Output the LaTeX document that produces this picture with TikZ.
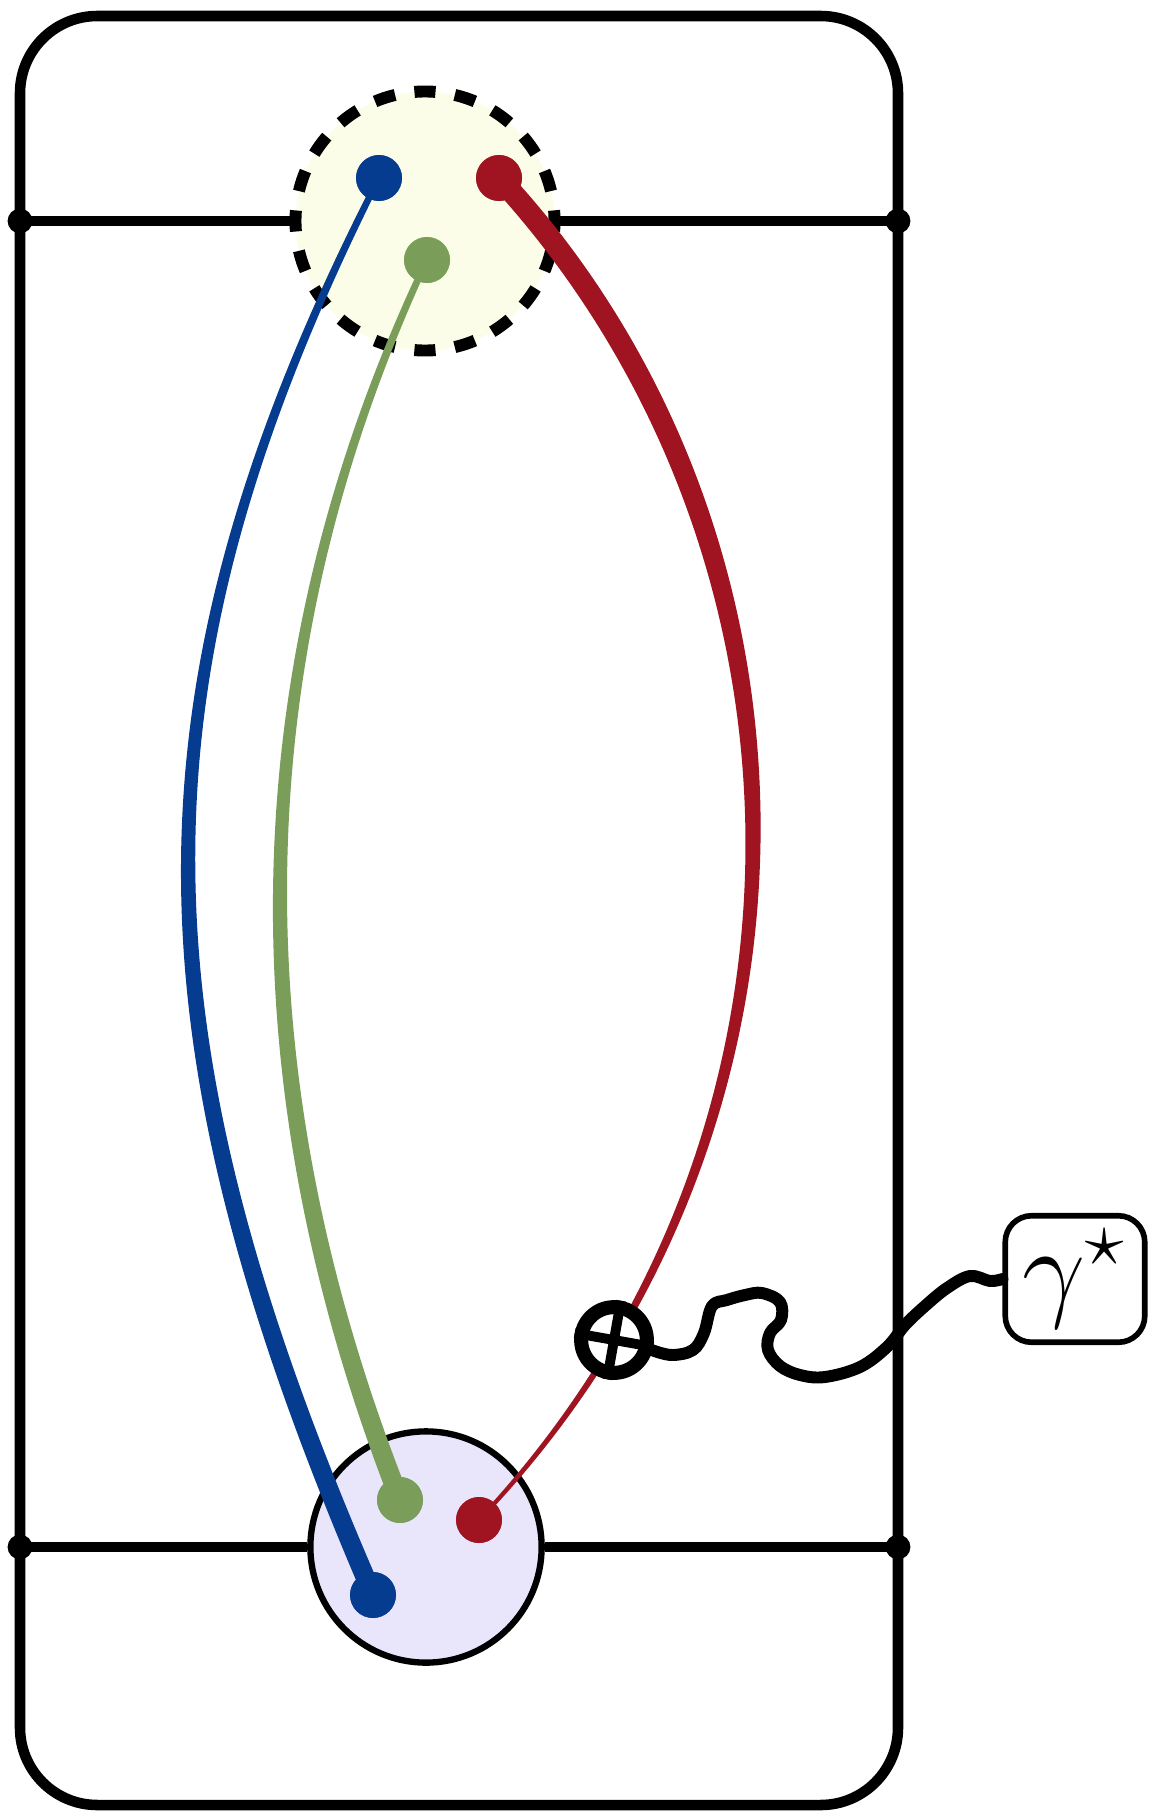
\documentclass[tikz,border=0pt]{standalone}
\usepackage{amsmath,amssymb}
\usepackage{graphicx}
\usepackage{tikz}
\usetikzlibrary{arrows.meta,calc}
\usepackage{xcolor}
\definecolor{QuarkBlue}{HTML}{053C8F}
\definecolor{QuarkRed}{HTML}{9F1420}
\definecolor{QuarkGreen}{HTML}{7A9D5A}
\definecolor{BlobYellow}{HTML}{FBFDE8}
\definecolor{BlobLilac}{HTML}{E9E6FC}
\tikzset{
  frame/.style={line width=3pt,rounded corners=22pt},
  cutline/.style={line width=3pt,-{Circle[length=7pt,width=7pt]},shorten >=-3.5pt},
  hadron/.style={circle,inner sep=0pt},
  outblob/.style={hadron,minimum size=73.7pt,fill=BlobYellow,draw,line width=3.4pt,
    dash pattern=on 6pt off 5.575pt,dash phase=2.975pt},
  inblob/.style={hadron,minimum size=65.8pt,fill=BlobLilac,draw,line width=1.8pt},
  quark/.style={circle,inner sep=0pt,minimum size=13pt},
  vertex/.style={circle,inner sep=0pt,minimum size=18.7pt,draw,fill=white,line width=4pt},
  crossbar/.style={line width=2.8pt},
  photon/.style={line width=3.4pt,line cap=round,line join=round},
  probe/.style={draw,fill=white,line width=1.6pt,rounded corners=7.5pt,minimum width=39.7pt,
    minimum height=36pt,inner sep=0pt,font=\LARGE}
}
\begin{document}
\begin{tikzpicture}[x=0.1mm,y=-0.1mm]
  \useasboundingbox (0,0) rectangle (1149,1811);

  % Frame and the two cuts.
  \coordinate (tl) at (20,16);
  \coordinate (br) at (898,1805);
  \draw[frame] (tl) rectangle (br);

  \node[outblob] (final) at (425,221) {};
  \node[inblob] (initial) at (426,1547) {};

  \draw[cutline] (final.west) -- (tl |- final.west);
  \draw[cutline] (final.east) -- (br |- final.east);
  \draw[cutline] (initial.west) -- (tl |- initial.west);
  \draw[cutline] (initial.east) -- (br |- initial.east);

  % Partons in and out.
  \node[quark,fill=QuarkBlue] (bt) at (379,178) {};
  \node[quark,fill=QuarkRed] (rt) at (499,178) {};
  \node[quark,fill=QuarkGreen] (gt) at (427,260) {};
  \node[quark,fill=QuarkGreen] (gb) at (400,1500) {};
  \node[quark,fill=QuarkRed] (rb) at (479,1520) {};
  \node[quark,fill=QuarkBlue] (bb) at (373,1595) {};

  % Tapered parton lines.
  \fill[QuarkBlue] ([shift={(-3.6,0)}]bt.center) .. controls (116,685) and (120.7,1033)
    .. ([shift={(-10.6,0)}]bb.center) -- ([shift={(10.6,0)}]bb.center)
    .. controls (137.3,1033) and (128,685) .. ([shift={(3.6,0)}]bt.center) -- cycle;
  \fill[QuarkGreen] ([shift={(-3.6,0)}]gt.center) .. controls (216.1,696) and (240.8,1117)
    .. ([shift={(-10.5,0)}]gb.center) -- ([shift={(10.5,0)}]gb.center)
    .. controls (257.2,1117) and (227.9,696) .. ([shift={(3.6,0)}]gt.center) -- cycle;
  \fill[QuarkRed] ([shift={(-14.7,0)}]rt.center) .. controls (825.9,542) and (841.8,1132)
    .. ([shift={(-2.7,0)}]rb.center) -- ([shift={(2.7,0)}]rb.center)
    .. controls (852.2,1132) and (844.1,542) .. ([shift={(14.7,0)}]rt.center) -- cycle;

  % Dots again on top of the lines.
  \foreach \q/\c in {bt/QuarkBlue,rt/QuarkRed,gt/QuarkGreen,gb/QuarkGreen,rb/QuarkRed,bb/QuarkBlue}
    \fill[\c] (\q.center) circle (23);

  % Photon vertex and probe.
  \node[vertex] (vtx) at (614,1340) {};
  \draw[crossbar] (vtx.170) -- (vtx.-10);
  \draw[crossbar] (vtx.80) -- (vtx.260);

  \node[probe] (gamma) at (1075,1279) {\scalebox{1.85}{$\gamma^\star$}};

  \draw[photon] plot[smooth,tension=0.6] coordinates {(vtx.-15) (672,1355) (693,1350)
    (704,1333) (712,1306) (727,1300) (745,1295) (762,1293) (780,1302) (781,1320)
    (770,1333) (768,1350) (780,1366) (800,1375) (825,1377) (860,1367) (887,1347)
    (905,1325) (925,1306) (947,1288) (970,1276) (990,1281) (gamma.west)};
\end{tikzpicture}
\end{document}
